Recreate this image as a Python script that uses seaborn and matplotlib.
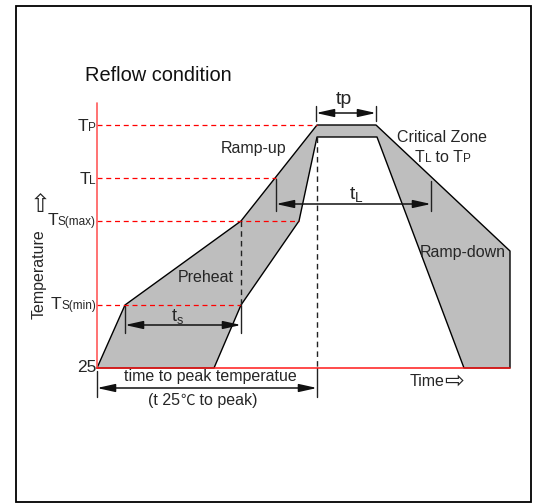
import matplotlib
matplotlib.use("Agg")
import matplotlib.pyplot as plt
import seaborn as sns
from matplotlib.patches import Rectangle

# reflow profile band: outer edge, then inner edge (chart units, y grows downward)
outer_x = [97, 125, 241, 317, 376, 510, 510]
outer_y = [368, 305, 221, 125, 125, 251, 368]
inner_x = [464, 377, 317, 299, 241, 214, 97]
inner_y = [368, 137, 137, 221, 305, 368, 368]

# temperature levels on the y axis
level_main = ["T", "T", "T", "T"]
level_sub = ["P", "L", "S(max)", "S(min)"]
level_y = [125, 178, 221, 305]
level_end = [317, 276, 299, 241]
base_label = "25"
base_y = 368
axis_x = 97
axis_right = 510

# measured spans: (left, right, y)
span_names = ["tp", "tL", "ts", "peak"]
span_left = [316, 276, 125, 97]
span_right = [376, 431, 241, 317]
span_y = [113, 204, 325, 388]

sns.set_theme(style="white")
fonts = ["Liberation Sans", "DejaVu Sans", "Noto Sans CJK SC"]
plt.rcParams["font.family"] = fonts
plt.rcParams["mathtext.fontset"] = "custom"
plt.rcParams["mathtext.rm"] = "Liberation Sans"
plt.rcParams["mathtext.it"] = "Liberation Sans"

fig = plt.figure(figsize=(5.36, 5.03), dpi=100)
fig.patch.set_facecolor("white")
ax = fig.add_axes([0, 0, 1, 1])
ax.set_xlim(0, 536)
ax.set_ylim(503, 0)
ax.axis("off")

# outer frame
ax.add_patch(Rectangle((15.5, 6), 515.5, 495.5, fill=False, ec="black", lw=1.3))

# shaded band
band_x = outer_x + inner_x
band_y = outer_y + inner_y
ax.fill(band_x, band_y, color="#bebebe", lw=0, zorder=1)
sns.lineplot(x=band_x + [band_x[0]], y=band_y + [band_y[0]], sort=False, estimator=None,
             color="black", lw=1, ax=ax, zorder=2)

# axes in red
ax.plot([axis_x, axis_x], [103, base_y], color="#ff5a5a", lw=1.2, zorder=4)
ax.plot([axis_x, axis_right], [base_y, base_y], color="#ff1a1a", lw=1.1, zorder=4)

# red dashed level lines
for y, xe in zip(level_y, level_end):
    ax.plot([axis_x, xe], [y, y], color="red", lw=0.9, dashes=(4, 3), zorder=3)

# black dashed verticals
ax.plot([241, 241], [221, 305], color="#222", lw=1, dashes=(4, 3), zorder=3)
ax.plot([317, 317], [137, base_y], color="#222", lw=1, dashes=(4, 3), zorder=3)

# tick marks of dimension arrows
ticks = [(316, 106, 121), (376, 106, 121), (276, 179, 211), (431, 181, 211),
         (125, 306, 333), (241, 305, 333), (97, 371, 397), (317, base_y, 397)]
for x, y0, y1 in ticks:
    ax.plot([x, x], [y0, y1], color="#222", lw=1, zorder=3)

# double arrows
for xl, xr, y in zip(span_left, span_right, span_y):
    ax.annotate("", xy=(xr, y), xytext=(xl, y),
                arrowprops=dict(arrowstyle="<|-|>,head_length=0.9,head_width=0.2",
                                mutation_scale=12, color="#111", lw=1.1,
                                shrinkA=0, shrinkB=0), zorder=5)

fs = 11.5
ax.text(85, 75, "Reflow condition", fontsize=14.4, ha="left", va="center", color="#111")
ax.text(344, 99, "tp", fontsize=14, ha="center", va="center")
ax.text(356, 194, r"$\mathrm{t_L}$", fontsize=14, ha="center", va="center")
ax.text(178, 316, r"$\mathrm{t_s}$", fontsize=13, ha="center", va="center")
ax.text(254, 149, "Ramp-up", fontsize=fs, ha="center", va="center")
ax.text(442, 137, "Critical Zone", fontsize=fs, ha="center", va="center")
ax.text(463, 252, "Ramp-down", fontsize=fs, ha="center", va="center")
ax.text(206, 277, "Preheat", fontsize=fs, ha="center", va="center")
ax.text(210, 377, "time to peak temperatue", fontsize=fs, ha="center", va="center")
ax.text(410, 381, "Time", fontsize=fs, ha="left", va="center")
ax.text(444, 381, "\u21e8", fontsize=17, ha="left", va="center", family=["DejaVu Sans"])
ax.text(39, 274, "Temperature", fontsize=fs, rotation=90, ha="center", va="center")
ax.text(40, 205, "\u21e7", fontsize=18, ha="center", va="center", family=["DejaVu Sans"])
ax.text(96, base_y, base_label, fontsize=12.5, ha="right", va="center")

fig.canvas.draw()
renderer = fig.canvas.get_renderer()
inv = ax.transData.inverted()


def run_text(x, y, parts):
    # lay out pieces left to right on one baseline
    for txt, size, fam in parts:
        t = ax.text(x, y, txt, fontsize=size, ha="left", va="baseline", family=fam)
        bb = t.get_window_extent(renderer)
        x = inv.transform((bb.x1, 0))[0]
    return x


# "(t 25℃ to peak)" with a CJK-style degree sign
cjk = ["Noto Sans CJK SC"]
run_text(148, 405, [("(t 25", fs, fonts), ("\u2103", fs - 1, cjk), (" to peak)", fs, fonts)])

# y labels with small baseline letters
label_base = [131, 184, 225, 309]
for big, small, yb in zip(level_main, level_sub, label_base):
    s = ax.text(96, yb, small, fontsize=8.5, ha="right", va="baseline")
    bb = s.get_window_extent(renderer)
    x0 = inv.transform((bb.x0, 0))[0]
    ax.text(x0 + 0.5, yb, big, fontsize=12.5, ha="right", va="baseline")

# "TL to TP" line in critical zone
run_text(415, 162, [("T", 11.5, fonts), ("L", 8.5, fonts), (" to T", 11.5, fonts), ("P", 8.5, fonts)])

fig.savefig("out.png", dpi=100, facecolor="white")
